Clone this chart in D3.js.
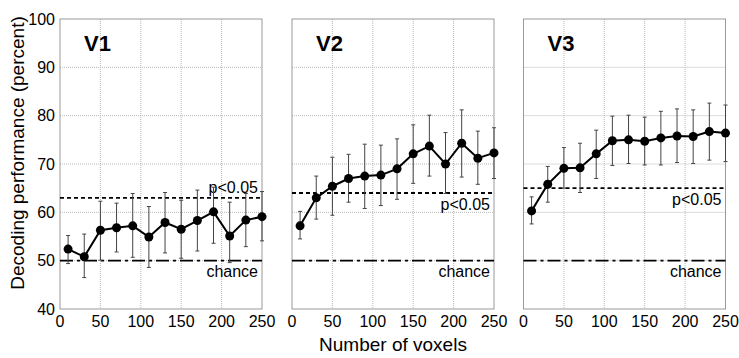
<!DOCTYPE html>
<html>
<head>
<meta charset="utf-8">
<script src="https://cdn.jsdelivr.net/npm/d3@7"></script>
<style>
  body { margin: 0; background: #fff; }
  text { font-family: "Liberation Sans", Arial, sans-serif; fill: #000; }
</style>
</head>
<body>
<div id="container"></div>
<script>
const voxels = [10, 30, 50, 70, 90, 110, 130, 150, 170, 190, 210, 230, 250];
const xTicks = [0, 50, 100, 150, 200, 250];
const yTicks = [40, 50, 60, 70, 80, 90, 100];
const areas = ["V1", "V2", "V3"];

const v1Mean  = [52.4, 50.8, 56.3, 56.8, 57.2, 54.9, 57.9, 56.5, 58.3, 60.1, 55.1, 58.4, 59.1];
const v1Upper = [55.2, 55.5, 62.3, 61.9, 63.9, 61.2, 64.1, 62.5, 64.6, 65.2, 62.1, 63.9, 64.3];
const v1Lower = [49.4, 46.5, 50.1, 51.8, 50.7, 48.6, 51.6, 50.5, 52.0, 53.6, 49.6, 52.9, 54.1];

const v2Mean  = [57.2, 63.0, 65.4, 67.0, 67.5, 67.7, 69.0, 72.1, 73.7, 70.0, 74.3, 71.2, 72.3];
const v2Upper = [60.2, 67.5, 71.4, 72.0, 74.1, 73.9, 75.2, 78.1, 80.1, 76.5, 81.2, 76.8, 77.5];
const v2Lower = [54.5, 58.6, 59.4, 62.1, 60.8, 61.4, 62.7, 66.0, 67.5, 63.9, 67.3, 65.8, 67.0];

const v3Mean  = [60.3, 65.8, 69.1, 69.2, 72.1, 74.8, 75.0, 74.7, 75.4, 75.8, 75.7, 76.7, 76.4];
const v3Upper = [63.2, 69.5, 73.4, 74.3, 77.0, 79.9, 80.1, 79.7, 80.9, 81.4, 81.2, 82.6, 82.2];
const v3Lower = [57.6, 62.1, 65.0, 64.1, 67.0, 69.7, 70.1, 69.8, 69.8, 70.3, 70.1, 70.8, 70.5];

const pThreshold = [63.0, 64.0, 65.0];
const chanceLevel = 50;

const means = [v1Mean, v2Mean, v3Mean];
const uppers = [v1Upper, v2Upper, v3Upper];
const lowers = [v1Lower, v2Lower, v3Lower];

const width = 739, height = 358;
const panelLeft = [60, 292, 523.5];
const panelWidth = 202;
const plotTop = 19, plotBottom = 309;

const svg = d3.select("#container").append("svg")
    .attr("width", width)
    .attr("height", height);

const y = d3.scaleLinear().domain([40, 100]).range([plotBottom, plotTop]);

areas.forEach((area, i) => {
    const x = d3.scaleLinear().domain([0, 250]).range([panelLeft[i], panelLeft[i] + panelWidth]);
    const g = svg.append("g");

    // grid
    g.selectAll(".gx").data(xTicks.filter(t => t > 0 && t < 250)).enter().append("line")
        .attr("x1", d => x(d)).attr("x2", d => x(d))
        .attr("y1", plotTop).attr("y2", plotBottom)
        .attr("stroke", "#b8b8b8").attr("stroke-width", 1)
        .attr("stroke-dasharray", "1,1");
    g.selectAll(".gy").data(yTicks.filter(t => t > 40 && t < 100)).enter().append("line")
        .attr("x1", x(0)).attr("x2", x(250))
        .attr("y1", d => y(d)).attr("y2", d => y(d))
        .attr("stroke", "#b8b8b8").attr("stroke-width", 1)
        .attr("stroke-dasharray", "1,1");

    // frame
    g.append("rect")
        .attr("x", x(0)).attr("y", plotTop)
        .attr("width", x(250) - x(0)).attr("height", plotBottom - plotTop)
        .attr("fill", "none").attr("stroke", "#999").attr("stroke-width", 1);

    // x tick labels
    g.selectAll(".xt").data(xTicks).enter().append("text")
        .attr("x", d => x(d)).attr("y", plotBottom + 18)
        .attr("text-anchor", "middle")
        .style("font-size", "16px")
        .text(d => d);

    // y tick labels on first panel
    if (i === 0) {
        g.selectAll(".yt").data(yTicks).enter().append("text")
            .attr("x", x(0) - 5).attr("y", d => y(d))
            .attr("dy", "0.35em")
            .attr("text-anchor", "end")
            .style("font-size", "16px")
            .text(d => d);
    }

    // reference lines
    g.append("line")
        .attr("x1", x(0)).attr("x2", x(250))
        .attr("y1", y(pThreshold[i])).attr("y2", y(pThreshold[i]))
        .attr("stroke", "#000").attr("stroke-width", 1.8)
        .attr("stroke-dasharray", "4,3");
    g.append("line")
        .attr("x1", x(0)).attr("x2", x(250))
        .attr("y1", y(chanceLevel)).attr("y2", y(chanceLevel))
        .attr("stroke", "#000").attr("stroke-width", 1.6)
        .attr("stroke-dasharray", "13,4,3,4");

    g.append("text")
        .attr("x", x(250) - 4)
        .attr("y", i === 0 ? y(pThreshold[i]) - 5 : y(pThreshold[i]) + 17)
        .attr("text-anchor", "end")
        .style("font-size", "16px")
        .text("p<0.05");
    g.append("text")
        .attr("x", x(250) - 4)
        .attr("y", y(chanceLevel) + 16)
        .attr("text-anchor", "end")
        .style("font-size", "16px")
        .text("chance");

    // error bars
    const bars = g.selectAll(".err").data(voxels).enter().append("g");
    bars.append("line")
        .attr("x1", d => x(d)).attr("x2", d => x(d))
        .attr("y1", (d, j) => y(uppers[i][j])).attr("y2", (d, j) => y(lowers[i][j]))
        .attr("stroke", "#444").attr("stroke-width", 1);
    bars.append("line")
        .attr("x1", d => x(d) - 2).attr("x2", d => x(d) + 2)
        .attr("y1", (d, j) => y(uppers[i][j])).attr("y2", (d, j) => y(uppers[i][j]))
        .attr("stroke", "#444").attr("stroke-width", 1);
    bars.append("line")
        .attr("x1", d => x(d) - 2).attr("x2", d => x(d) + 2)
        .attr("y1", (d, j) => y(lowers[i][j])).attr("y2", (d, j) => y(lowers[i][j]))
        .attr("stroke", "#444").attr("stroke-width", 1);

    // mean line
    g.append("path")
        .datum(voxels.map((v, j) => [v, means[i][j]]))
        .attr("fill", "none")
        .attr("stroke", "#000")
        .attr("stroke-width", 2)
        .attr("d", d3.line().x(d => x(d[0])).y(d => y(d[1])));

    g.selectAll(".pt").data(voxels).enter().append("circle")
        .attr("cx", d => x(d))
        .attr("cy", (d, j) => y(means[i][j]))
        .attr("r", 4.5)
        .attr("fill", "#000");

    // area label
    g.append("text")
        .attr("x", x(0) + 24).attr("y", 51)
        .style("font-size", "22px")
        .style("font-weight", "bold")
        .text(area);
});

// axis titles
svg.append("text")
    .attr("x", 393).attr("y", 351)
    .attr("text-anchor", "middle")
    .style("font-size", "19px")
    .text("Number of voxels");

svg.append("text")
    .attr("transform", "translate(24,153) rotate(-90)")
    .attr("text-anchor", "middle")
    .style("font-size", "19px")
    .text("Decoding performance (percent)");
</script>
</body>
</html>
